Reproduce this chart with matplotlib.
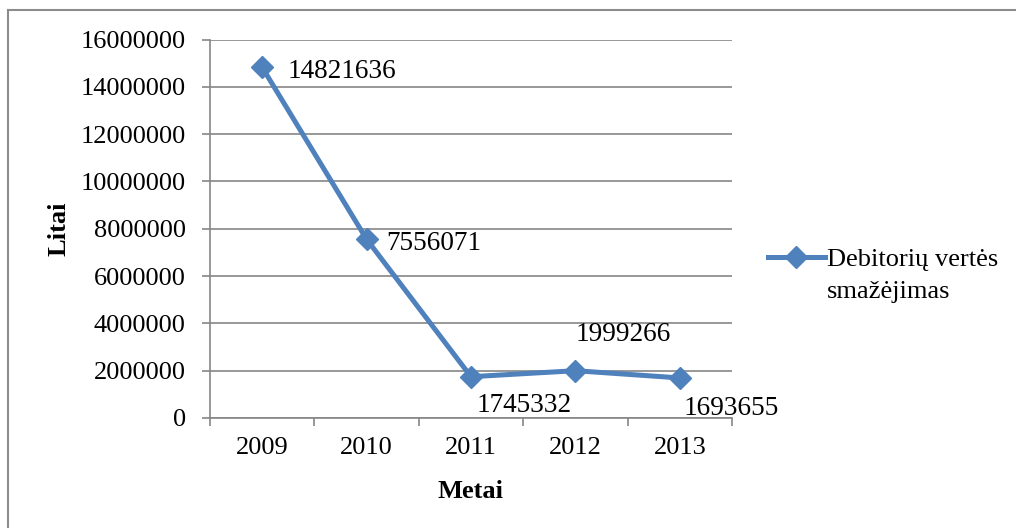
import matplotlib
matplotlib.use("Agg")
import matplotlib.pyplot as plt
from matplotlib.lines import Line2D

years = ["2009", "2010", "2011", "2012", "2013"]
values = [14821636, 7556071, 1745332, 1999266, 1693655]
yticks = [0, 2000000, 4000000, 6000000, 8000000, 10000000, 12000000, 14000000, 16000000]
series_name_lines = ["Debitorių vertės", "smažėjimas"]

plt.rcParams['font.family'] = ['Liberation Serif', 'DejaVu Serif']
color = '#4F81BD'
grid_c = '#868686'
FS = 19
FS_LBL = 19.6

fig = plt.figure(figsize=(10.16, 5.28), dpi=100)
ax = fig.add_axes([210/1016, 1-418/528, (732-210)/1016, (418-39.5)/528])

x = list(range(len(years)))
ax.plot(x, values, color=color, lw=3.6, marker='D', markersize=11, zorder=3)

ax.set_xlim(-0.5, len(years)-0.5)
ax.set_ylim(0, 16000000)
ax.set_yticks(yticks)
ax.set_yticklabels([str(v) for v in yticks], fontsize=FS)
ax.set_xticks(x)
ax.set_xticklabels(years, fontsize=FS)
ax.set_xticks([i-0.5 for i in range(len(years)+1)], minor=True)
ax.tick_params(axis='x', which='major', length=0, pad=14)
ax.tick_params(axis='x', which='minor', length=5.5, width=1.2, color=grid_c, direction='out')
ax.tick_params(axis='y', length=5.5, width=1.2, color=grid_c, direction='out', pad=12)

ax.grid(axis='y', color=grid_c, lw=1.2)
ax.set_axisbelow(True)
for s in ['top', 'right']:
    ax.spines[s].set_visible(False)
for s in ['left', 'bottom']:
    ax.spines[s].set_color(grid_c)
    ax.spines[s].set_linewidth(1.2)

ax.set_ylabel("Litai", fontsize=FS, fontweight='bold', labelpad=7)
ax.set_xlabel("Metai", fontsize=FS, fontweight='bold', labelpad=15)

# data labels: offsets in points
offsets = [(18, -3, 'left', 'center'), (14, -3, 'left', 'center'),
           (4, -12, 'left', 'top'), (0, 17, 'left', 'bottom'),
           (3, -13, 'left', 'top')]
for xi, v, (dx, dy, ha, va) in zip(x, values, offsets):
    ax.annotate(str(v), (xi, v), xytext=(dx, dy), textcoords='offset points',
                ha=ha, va=va, fontsize=FS_LBL, annotation_clip=False)

handle = Line2D([], [], color=color, lw=3.6, marker='D', markersize=11)
leg = fig.legend([handle], [series_name_lines[0]], loc='center left',
                 bbox_to_anchor=(768/1016, 1-259/528), frameon=False,
                 fontsize=FS, handlelength=2.15, handletextpad=0.1,
                 borderaxespad=0, borderpad=0)

fig.canvas.draw()
bb = leg.get_texts()[0].get_window_extent()
W, H = fig.bbox.width, fig.bbox.height
fig.text(bb.x0 / W, (bb.y0 - 32) / H, series_name_lines[1], fontsize=FS,
         ha='left', va='bottom')

# outer border (top and left visible)
fig.add_artist(Line2D([8/1016, 1.0], [1-10/528, 1-10/528], color='#8c8c8c', lw=1.5, transform=fig.transFigure))
fig.add_artist(Line2D([8/1016, 8/1016], [0.0, 1-10/528], color='#8c8c8c', lw=1.5, transform=fig.transFigure))

fig.savefig("out.png", dpi=100)
